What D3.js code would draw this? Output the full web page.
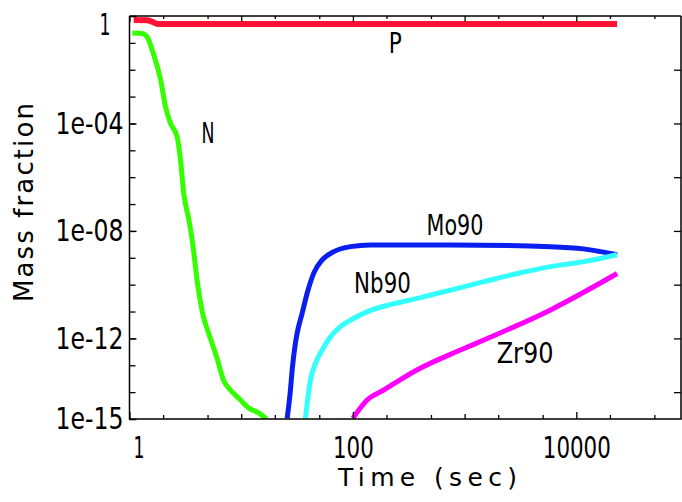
<!DOCTYPE html>
<html><head><meta charset="utf-8">
<script src="https://cdn.jsdelivr.net/npm/d3@7"></script>
<style>body{margin:0;background:#fff}svg{display:block}</style>
</head><body>
<svg id="chart" width="682" height="502"></svg>
<script>
// ---------- data ----------
const timeP = [1.09, 1.44, 1.61, 1.82, 3, 10, 100, 1000, 10000, 23200];
const valP  = [0.71, 0.70, 0.60, 0.50, 0.50, 0.50, 0.50, 0.50, 0.50, 0.50];

const timeN = [1.06, 1.30, 1.44, 1.65, 1.90, 2.10, 2.33, 2.67, 2.86, 3.06, 3.40, 3.64, 4.06, 4.59, 5.10, 6.13, 6.94, 8.02, 9.86, 11.6, 14.3, 16.9];
const valN  = [0.233, 0.223, 0.166, 0.035, 4.2e-3, 4.2e-4, 1.0e-4, 3.2e-5, 4.4e-6, 2.5e-7, 2.6e-8, 4.6e-9, 1.15e-10, 6.3e-12, 1.6e-12, 1.6e-13, 2.8e-14, 1.2e-14, 5.1e-15, 2.6e-15, 1.7e-15, 1.0e-15];

const timeMo = [25.8, 27.6, 28.6, 30.6, 31.7, 35.2, 39.0, 44.7, 53.1, 67.5, 95, 144, 750, 5900, 11600, 16500, 23200];
const valMo  = [1.07e-15, 1.2e-14, 6.8e-14, 6.8e-13, 1.6e-12, 8.9e-12, 4.9e-11, 2.75e-10, 8.3e-10, 1.7e-9, 2.6e-9, 3.0e-9, 3.0e-9, 2.6e-9, 2.15e-9, 1.7e-9, 1.3e-9];

const timeNb = [37.6, 39.0, 41.7, 46.2, 53.1, 63.0, 77.4, 102, 144, 215, 377, 748, 1486, 2958, 5880, 11700, 23200];
const valNb  = [1.07e-15, 3.9e-15, 2.8e-14, 1.17e-13, 3.7e-13, 1.15e-12, 2.75e-12, 5.6e-12, 1.1e-11, 1.8e-11, 3.1e-11, 6.3e-11, 1.29e-10, 2.6e-10, 4.7e-10, 7.2e-10, 1.3e-9];

const timeZr = [100, 134, 189, 377, 919, 1486, 5880, 23200];
const valZr  = [1.07e-15, 5.1e-15, 1.2e-14, 6.8e-14, 3.7e-13, 8.7e-13, 1.15e-11, 2.6e-10];

const seriesNames  = ["P", "N", "Mo90", "Nb90", "Zr90"];
const seriesColors = ["#ff1433", "#33ff00", "#0a1ef0", "#33ffff", "#ff00ff"];
// label anchor (time, value at text baseline) for each series name
const seriesLabelAt = [[240, 0.042], [5.05, 1.9e-5], [820, 7.1e-9], [184, 4.9e-11], [3480, 1.2e-13]];

const xMajorTicks = [1, 100, 10000];
const xMajorLabels = ["1", "100", "10000"];
const xMidTicks = [10, 1000];
const xMinorTicks = [2, 5, 20, 50, 200, 500, 2000, 5000, 20000, 50000];
const yTicks = [1, 1e-1, 1e-2, 1e-3, 1e-4, 1e-5, 1e-6, 1e-7, 1e-8, 1e-9, 1e-10, 1e-11, 1e-12, 1e-13, 1e-14, 1e-15];
const yLabelTicks = [1, 1e-4, 1e-8, 1e-12, 1e-15];
const yLabels = ["1", "1e-04", "1e-08", "1e-12", "1e-15"];
const yRightTicks = [1e-2, 1e-4, 1e-6, 1e-8, 1e-10, 1e-12, 1e-14];

// ---------- layout ----------
const FONT = "'DejaVu Sans',sans-serif";
const CHAR_W = 13.6;      // narrow glyph advance used in the reference
const L = 129.5, R = 681, T = 16, B = 419;
const x = d3.scaleLog().domain([1, 1e5]).range([L, L + 5 * 111.7]);
const y = d3.scaleLog().domain([1e-15, 1]).range([B, T]);

const svg = d3.select("#chart");
svg.append("rect").attr("width", 682).attr("height", 502).attr("fill", "#fff");

svg.append("defs").append("clipPath").attr("id", "plotclip")
  .append("rect").attr("x", L).attr("y", T).attr("width", R - L).attr("height", B - T);

function narrow(sel) {
  sel.each(function () {
    const s = d3.select(this), n = s.text().length;
    if (n > 0) s.attr("textLength", n === 1 ? 11 : n * CHAR_W).attr("lengthAdjust", "spacingAndGlyphs");
  });
}

// curves
const allT = [timeP, timeN, timeMo, timeNb, timeZr];
const allV = [valP, valN, valMo, valNb, valZr];
const line = d3.line().x(d => x(d[0])).y(d => y(d[1])).curve(d3.curveMonotoneX);
const gCurves = svg.append("g").attr("clip-path", "url(#plotclip)");
seriesNames.forEach((name, i) => {
  const pts = allT[i].map((t, k) => [t, allV[i][k]]);
  gCurves.append("path").datum(pts).attr("d", line)
    .attr("fill", "none").attr("stroke", seriesColors[i])
    .attr("stroke-width", i === 0 ? 6 : 5).attr("stroke-linejoin", "round");
});

// axes (ticks inward)
function styleAxis(g) {
  g.select(".domain").remove();
  g.selectAll("line").attr("stroke", "#000").attr("stroke-width", 1.3);
  g.selectAll("text").attr("font-family", FONT).attr("font-size", 30).attr("fill", "#000").call(narrow);
}
svg.append("g").attr("transform", `translate(0,${B})`)
  .call(d3.axisBottom(x).tickValues(xMinorTicks).tickSize(-4).tickFormat("")).call(styleAxis);
svg.append("g").attr("transform", `translate(0,${B})`)
  .call(d3.axisBottom(x).tickValues(xMidTicks).tickSize(-5).tickFormat("")).call(styleAxis);
const gxb = svg.append("g").attr("transform", `translate(0,${B})`)
  .call(d3.axisBottom(x).tickValues(xMajorTicks).tickSize(-7).tickPadding(18)
    .tickFormat((d, i) => xMajorLabels[i])).call(styleAxis);
gxb.selectAll(".tick text").filter(d => d === 1).attr("dx", 9);

svg.append("g").attr("transform", `translate(0,${T})`)
  .call(d3.axisTop(x).tickValues(xMinorTicks).tickSize(-3).tickFormat("")).call(styleAxis);
svg.append("g").attr("transform", `translate(0,${T})`)
  .call(d3.axisTop(x).tickValues(xMidTicks.concat(xMajorTicks)).tickSize(-6).tickFormat("")).call(styleAxis);

svg.append("g").attr("transform", `translate(${L},0)`)
  .call(d3.axisLeft(y).tickValues(yTicks).tickSize(-6).tickFormat("")).call(styleAxis);
const gyl = svg.append("g").attr("transform", `translate(${L},0)`)
  .call(d3.axisLeft(y).tickValues(yLabelTicks).tickSize(-7).tickPadding(6)
    .tickFormat((d, i) => yLabels[i])).call(styleAxis);
gyl.selectAll(".tick text").filter(d => d === 1).attr("x", -19).attr("dy", "0.62em");

svg.append("g").attr("transform", `translate(${R},0)`)
  .call(d3.axisRight(y).tickValues(yRightTicks).tickSize(-7).tickFormat("")).call(styleAxis);

// frame
svg.append("path")
  .attr("d", `M${L},${T}H${R}M${L},${T}V${B}H${R}V${T}`)
  .attr("fill", "none").attr("stroke", "#000").attr("stroke-width", 1.5);

// series labels
seriesNames.forEach((name, i) => {
  svg.append("text").attr("x", x(seriesLabelAt[i][0])).attr("y", y(seriesLabelAt[i][1]))
    .attr("text-anchor", "middle").attr("font-family", FONT).attr("font-size", 29)
    .attr("fill", "#000").text(name)
    .attr("textLength", name.length === 1 ? 13 : name.length * 14.2).attr("lengthAdjust", "spacingAndGlyphs");
});

// axis titles
svg.append("text").attr("x", 338).attr("y", 486)
  .attr("font-family", FONT).attr("font-size", 25).attr("fill", "#000")
  .attr("textLength", 179).attr("lengthAdjust", "spacing").text("Time (sec)");
svg.append("text").attr("transform", "translate(33,302) rotate(-90)")
  .attr("font-family", FONT).attr("font-size", 26).attr("fill", "#000")
  .attr("textLength", 199).attr("lengthAdjust", "spacing").text("Mass fraction");
</script>
</body></html>
